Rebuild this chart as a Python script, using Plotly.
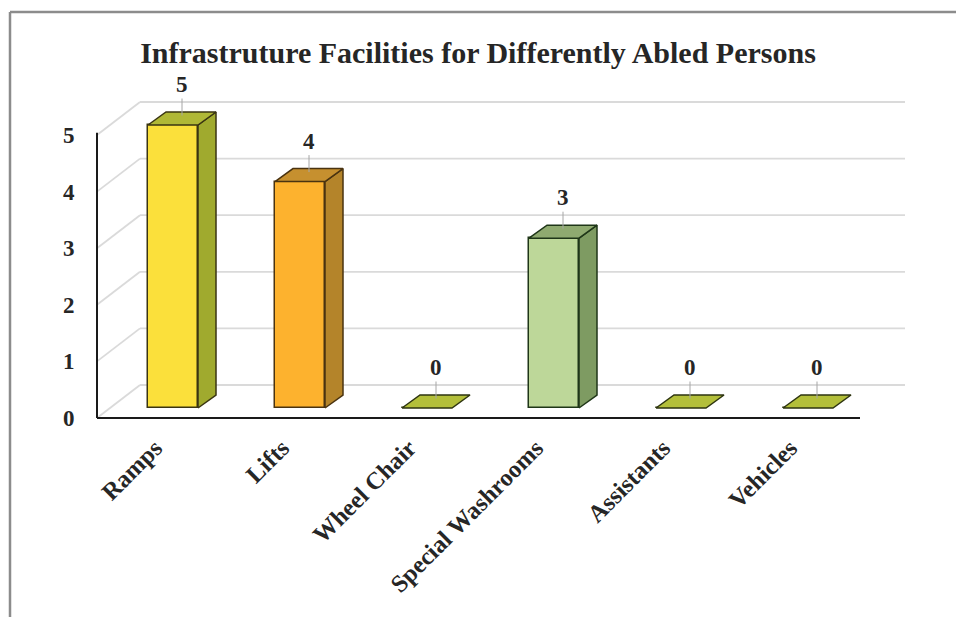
import plotly.graph_objects as go

# ---- data -------------------------------------------------------------
categories = ["Ramps", "Lifts", "Wheel Chair", "Special Washrooms", "Assistants", "Vehicles"]
counts = [5, 4, 0, 3, 0, 0]
y_ticks = [0, 1, 2, 3, 4, 5]

front_colors = ["#FBE03B", "#FDB22E", "#B3BF3A", "#BDD799", "#B3BF3A", "#B3BF3A"]
side_colors = ["#A0AA2E", "#B4842A", "#8E9A2C", "#7E9B62", "#8E9A2C", "#8E9A2C"]
top_colors = ["#B0B836", "#C6902F", "#B3BF3A", "#8FAA70", "#B3BF3A", "#B3BF3A"]
edge_colors = ["#3A3512", "#4A3310", "#2E3510", "#1F3618", "#2E3510", "#2E3510"]

# ---- canvas / pseudo-3D geometry --------------------------------------
W, H = 956, 617
PL, PR, PT, PB = 40, 930, 55, 430          # plot area in pixels
CAT_PX = 127.0                               # pixels per category step
UNIT_PX = 56.6                               # pixels per count unit
ORIGIN_X, ORIGIN_Y = 155.0, 418.0            # pixel of (category 0 tick, value 0)
AXIS_X_PX = 97.0                             # front value-axis position
AXIS_END_PX = 860.0                          # end of front category axis
WALL_END_PX = 905.0                          # right end of back wall

x_range = [(PL - ORIGIN_X) / CAT_PX, (PR - ORIGIN_X) / CAT_PX]
y_range = [(ORIGIN_Y - PB) / UNIT_PX, (ORIGIN_Y - PT) / UNIT_PX]
x_axis = (AXIS_X_PX - ORIGIN_X) / CAT_PX
x_axis_end = (AXIS_END_PX - ORIGIN_X) / CAT_PX
x_wall_end = (WALL_END_PX - ORIGIN_X) / CAT_PX

DEPTH_X, DEPTH_Y = 43 / CAT_PX, 33 / UNIT_PX      # back wall offset
BAR_DX, BAR_DY = 18 / CAT_PX, 13 / UNIT_PX        # bar depth
BAR_BASE = 10 / UNIT_PX                           # bar floor level
BAR_SHIFT = 18 / CAT_PX                           # bar front centre vs. tick
BAR_W = 50 / CAT_PX

SERIF = "Liberation Serif"
TEXT = "#262626"


def paper_x(px):
    return (px - PL) / (PR - PL)


def paper_y(py):
    return (PB - py) / (PB - PT)


fig = go.Figure()

# back wall grid lines and left wall diagonals, kept beneath the bars
for k in y_ticks:
    fig.add_shape(type="line", xref="x", yref="y", layer="below",
                  x0=x_axis, y0=k, x1=x_axis + DEPTH_X, y1=k + DEPTH_Y,
                  line=dict(color="#DADADA", width=1.8))
    fig.add_shape(type="line", xref="x", yref="y", layer="below",
                  x0=x_axis + DEPTH_X, y0=k + DEPTH_Y, x1=x_wall_end, y1=k + DEPTH_Y,
                  line=dict(color="#DADADA", width=1.8))

# front axis lines
fig.add_trace(go.Scatter(x=[x_axis, x_axis, None, x_axis, x_axis_end],
                         y=[max(y_ticks) + 0.04, 0, None, 0, 0], mode="lines",
                         line=dict(color="#1a1a1a", width=2), hoverinfo="skip",
                         showlegend=False))

positions = list(range(len(categories)))
centers = [p + BAR_SHIFT for p in positions]

# front faces
fig.add_trace(go.Bar(
    x=centers, y=counts, base=BAR_BASE, width=BAR_W,
    marker=dict(color=front_colors, line=dict(color=edge_colors, width=1.5)),
    hoverinfo="skip", showlegend=False))

# side and top faces of each bar
for c, v, sc, tc, ec in zip(centers, counts, side_colors, top_colors, edge_colors):
    left, right = c - BAR_W / 2, c + BAR_W / 2
    top = BAR_BASE + v
    if v > 0:
        fig.add_trace(go.Scatter(
            x=[right, right + BAR_DX, right + BAR_DX, right, right],
            y=[BAR_BASE, BAR_BASE + BAR_DY, top + BAR_DY, top, BAR_BASE],
            mode="lines", fill="toself", fillcolor=sc,
            line=dict(color=ec, width=1.5), hoverinfo="skip", showlegend=False))
    fig.add_trace(go.Scatter(
        x=[left, right, right + BAR_DX, left + BAR_DX, left],
        y=[top, top, top + BAR_DY, top + BAR_DY, top],
        mode="lines", fill="toself", fillcolor=tc,
        line=dict(color=ec, width=1.5), hoverinfo="skip", showlegend=False))

# value labels with leader lines
for c, v in zip(centers, counts):
    fig.add_annotation(
        x=c + BAR_DX / 2, y=BAR_BASE + v + BAR_DY / 2, text=str(v),
        showarrow=True, arrowhead=0, arrowwidth=1, arrowcolor="#A6A6A6",
        ax=0, ay=-34, standoff=3,
        font=dict(family=SERIF, size=23, color=TEXT, weight="bold"))

# frame around the chart
fig.add_shape(type="line", xref="paper", yref="paper",
              x0=paper_x(10), x1=paper_x(10), y0=paper_y(12), y1=paper_y(H + 5),
              line=dict(color="#8C8C8C", width=2.5))
fig.add_shape(type="line", xref="paper", yref="paper",
              x0=paper_x(10), x1=paper_x(W + 5), y0=paper_y(12), y1=paper_y(12),
              line=dict(color="#8C8C8C", width=2.5))

fig.update_layout(
    width=W, height=H,
    margin=dict(l=PL, r=W - PR, t=PT, b=H - PB),
    paper_bgcolor="white", plot_bgcolor="white",
    bargap=0,
    title=dict(text="Infrastruture Facilities for Differently Abled Persons",
               xref="container", x=0.5, xanchor="center",
               yref="container", y=1 - 52 / H, yanchor="middle",
               font=dict(family=SERIF, size=30, color=TEXT, weight="bold")),
    xaxis=dict(range=x_range, tickvals=positions, ticktext=categories,
               tickangle=-45, showgrid=False, zeroline=False, showline=False,
               ticks="outside", ticklen=5, tickcolor="rgba(0,0,0,0)",
               anchor="free", position=paper_y(ORIGIN_Y),
               tickfont=dict(family=SERIF, size=24.5, color=TEXT, weight="bold")),
    yaxis=dict(range=y_range, tickvals=y_ticks, showgrid=False, zeroline=False,
               showline=False, ticks="outside", ticklen=18,
               tickcolor="rgba(0,0,0,0)", anchor="free",
               position=paper_x(AXIS_X_PX),
               tickfont=dict(family=SERIF, size=23, color=TEXT, weight="bold")),
)

fig.write_html("out.html")
